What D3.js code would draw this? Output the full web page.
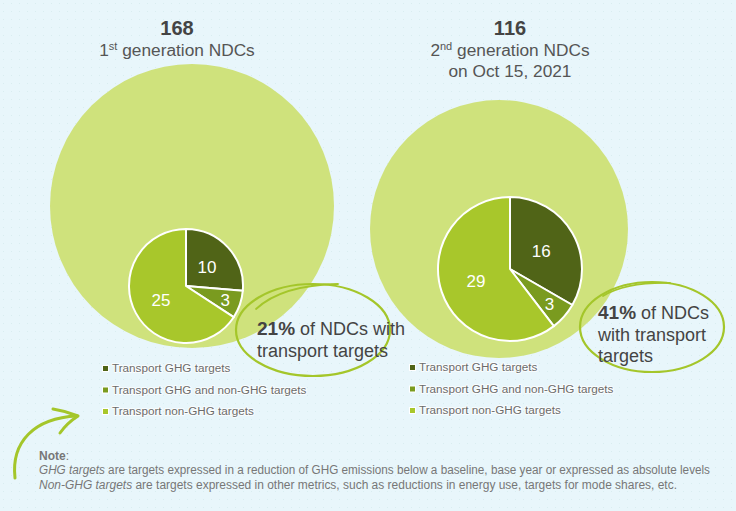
<!DOCTYPE html>
<html>
<head>
<meta charset="utf-8">
<script src="https://cdn.jsdelivr.net/npm/d3@7/dist/d3.min.js"></script>
<style>
  html, body { margin: 0; padding: 0; background: #e8f6fb; }
  svg { display: block; font-family: "Liberation Sans", Arial, sans-serif; }
</style>
</head>
<body>
<svg id="chart" width="736" height="511"></svg>
<script>
// ---------- data ----------
const totals = [168, 116];
const generationLabels = [["1", "st", " generation NDCs"], ["2", "nd", " generation NDCs"]];
const subtitleLines = ["", "on Oct 15, 2021"];
const seriesNames = ["Transport GHG targets", "Transport GHG and non-GHG targets", "Transport non-GHG targets"];
const firstGenValues = [10, 3, 25];
const secondGenValues = [16, 3, 29];
const shareLabels = ["21%", "41%"];
const shareLines = [["of NDCs with", "transport targets"], ["of NDCs", "with transport", "targets"]];
const noteTitle = "Note";
const noteLines = [
  ["GHG targets", " are targets expressed in a reduction of GHG emissions below a baseline, base year or expressed as absolute levels"],
  ["Non-GHG targets", " are targets expressed in other metrics, such as reductions in energy use, targets for mode shares, etc."]
];

// ---------- styles / layout ----------
const colors = ["#506417", "#7a9b1f", "#a8c72b"];
const bigFill = "#cfe27c";
const accent = "#a4c62a";
const panels = [
  { titleX: 177, circle: { cx: 192, cy: 206, r: 142 }, pie: { cx: 186, cy: 286 },
    call: { cx: 313, cy: 330, rx: 77, ry: 46, tx: 257, ty: 335, tail: "M256,309 Q282,285 338,284" },
    legend: { x: 103, y: 372 } },
  { titleX: 510, circle: { cx: 499, cy: 229, r: 129 }, pie: { cx: 510, cy: 269 },
    call: { cx: 652, cy: 327, rx: 72, ry: 45, tx: 598, ty: 319, tail: "M603,296 Q626,282 670,283" },
    legend: { x: 410, y: 371 } }
];
const pieValues = [firstGenValues, secondGenValues];

const svg = d3.select("#chart");

// background dots
const defs = svg.append("defs");
const pat = defs.append("pattern").attr("id", "dots").attr("width", 8).attr("height", 8)
  .attr("patternUnits", "userSpaceOnUse");
pat.append("rect").attr("width", 8).attr("height", 8).attr("fill", "#e8f6fb");
pat.append("rect").attr("x", 3).attr("y", 3).attr("width", 1).attr("height", 1).attr("fill", "#d9edf0");
svg.append("rect").attr("width", 736).attr("height", 511).attr("fill", "url(#dots)");

const pieScale = d3.scaleLinear().domain([0, 48]).range([0, 72]);
const pie = d3.pie().sort(null).value(d => d);

panels.forEach((p, i) => {
  svg.append("circle").attr("cx", p.circle.cx).attr("cy", p.circle.cy).attr("r", p.circle.r)
    .attr("fill", bigFill);
});

panels.forEach((p, i) => {
  const vals = pieValues[i];
  const total = d3.sum(vals);
  const r = pieScale(total);
  const arc = d3.arc().innerRadius(0).outerRadius(r);
  const g = svg.append("g").attr("transform", `translate(${p.pie.cx},${p.pie.cy})`);
  const arcs = pie(vals);
  g.selectAll("path").data(arcs).join("path")
    .attr("d", arc)
    .attr("fill", (d, j) => colors[j])
    .attr("stroke", "#fff").attr("stroke-width", 2).attr("stroke-linejoin", "round");
  g.selectAll("text").data(arcs).join("text")
    .attr("transform", d => {
      const frac = (d.endAngle - d.startAngle) / (2 * Math.PI);
      const lr = frac < 0.12 ? r * 0.73 : r * 0.5;
      const a = (d.startAngle + d.endAngle) / 2;
      return `translate(${Math.sin(a) * lr},${-Math.cos(a) * lr})`;
    })
    .attr("text-anchor", "middle").attr("dy", "0.36em")
    .attr("fill", "#fff").attr("font-size", 17)
    .text(d => d.data);
});

// titles
panels.forEach((p, i) => {
  svg.append("text").attr("x", p.titleX).attr("y", 35).attr("text-anchor", "middle")
    .attr("font-size", 20).attr("font-weight", "bold").attr("fill", "#444").text(totals[i]);
  const t = svg.append("text").attr("x", p.titleX).attr("y", 56).attr("text-anchor", "middle")
    .attr("font-size", 17.3).attr("fill", "#555");
  const gl = generationLabels[i];
  t.append("tspan").text(gl[0]);
  t.append("tspan").attr("font-size", 11).attr("dy", -6).text(gl[1]);
  t.append("tspan").attr("dy", 6).text(gl[2]);
  if (subtitleLines[i]) {
    svg.append("text").attr("x", p.titleX).attr("y", 77).attr("text-anchor", "middle")
      .attr("font-size", 17.3).attr("fill", "#555").text(subtitleLines[i]);
  }
});

// legends
panels.forEach((p, i) => {
  const g = svg.append("g");
  seriesNames.forEach((name, j) => {
    const y = p.legend.y + j * 21.5;
    g.append("rect").attr("x", p.legend.x - 1).attr("y", y - 7).attr("width", 7).attr("height", 7).attr("fill", "#fff");
    g.append("rect").attr("x", p.legend.x).attr("y", y - 6).attr("width", 5).attr("height", 5).attr("fill", colors[j]);
    g.append("text").attr("x", p.legend.x + 9).attr("y", y)
      .attr("font-size", 11.7).attr("fill", "#6b6b6b")
      .attr("stroke", "#fff").attr("stroke-width", 2).attr("stroke-opacity", 0.8)
      .attr("paint-order", "stroke").attr("stroke-linejoin", "round")
      .text(name);
  });
});

// callouts
panels.forEach((p, i) => {
  const c = p.call;
  svg.append("ellipse").attr("cx", c.cx).attr("cy", c.cy).attr("rx", c.rx).attr("ry", c.ry)
    .attr("fill", "none").attr("stroke", accent).attr("stroke-width", 2.2);
  svg.append("path").attr("d", c.tail).attr("fill", "none").attr("stroke", accent)
    .attr("stroke-width", 1.8).attr("stroke-linecap", "round");
  const lines = shareLines[i];
  const t = svg.append("text").attr("x", c.tx).attr("y", c.ty).attr("font-size", 18).attr("fill", "#444");
  t.append("tspan").attr("font-weight", "bold").attr("font-size", 19).text(shareLabels[i]);
  t.append("tspan").text(" " + lines[0]);
  lines.slice(1).forEach((l, k) => {
    svg.append("text").attr("x", c.tx).attr("y", c.ty + (k + 1) * (i === 0 ? 22 : 21.5))
      .attr("font-size", 18).attr("fill", "#444").text(l);
  });
});

// arrow
svg.append("path").attr("d", "M15,478 C11,442 34,418 77,416")
  .attr("fill", "none").attr("stroke", accent).attr("stroke-width", 3).attr("stroke-linecap", "round");
svg.append("path").attr("d", "M53,409 Q66,411 78,416 Q67,423 60,433")
  .attr("fill", "none").attr("stroke", accent).attr("stroke-width", 3).attr("stroke-linecap", "round").attr("stroke-linejoin", "round");

// note
const noteFont = "'Liberation Sans Narrow', 'Liberation Sans', Arial, sans-serif";
const nt = svg.append("text").attr("x", 39).attr("y", 460).attr("font-size", 12).attr("fill", "#777")
  .attr("font-family", noteFont);
nt.append("tspan").attr("font-weight", "bold").text(noteTitle);
nt.append("tspan").text(":");
const noteWidths = [671, 638];
noteLines.forEach((l, k) => {
  const t = svg.append("text").attr("x", 39).attr("y", 474 + k * 14.5).attr("font-size", 12).attr("fill", "#777")
    .attr("font-family", noteFont)
    .attr("textLength", noteWidths[k]).attr("lengthAdjust", "spacingAndGlyphs");
  t.append("tspan").attr("font-style", "italic").text(l[0]);
  t.append("tspan").text(l[1]);
});
</script>
</body>
</html>
